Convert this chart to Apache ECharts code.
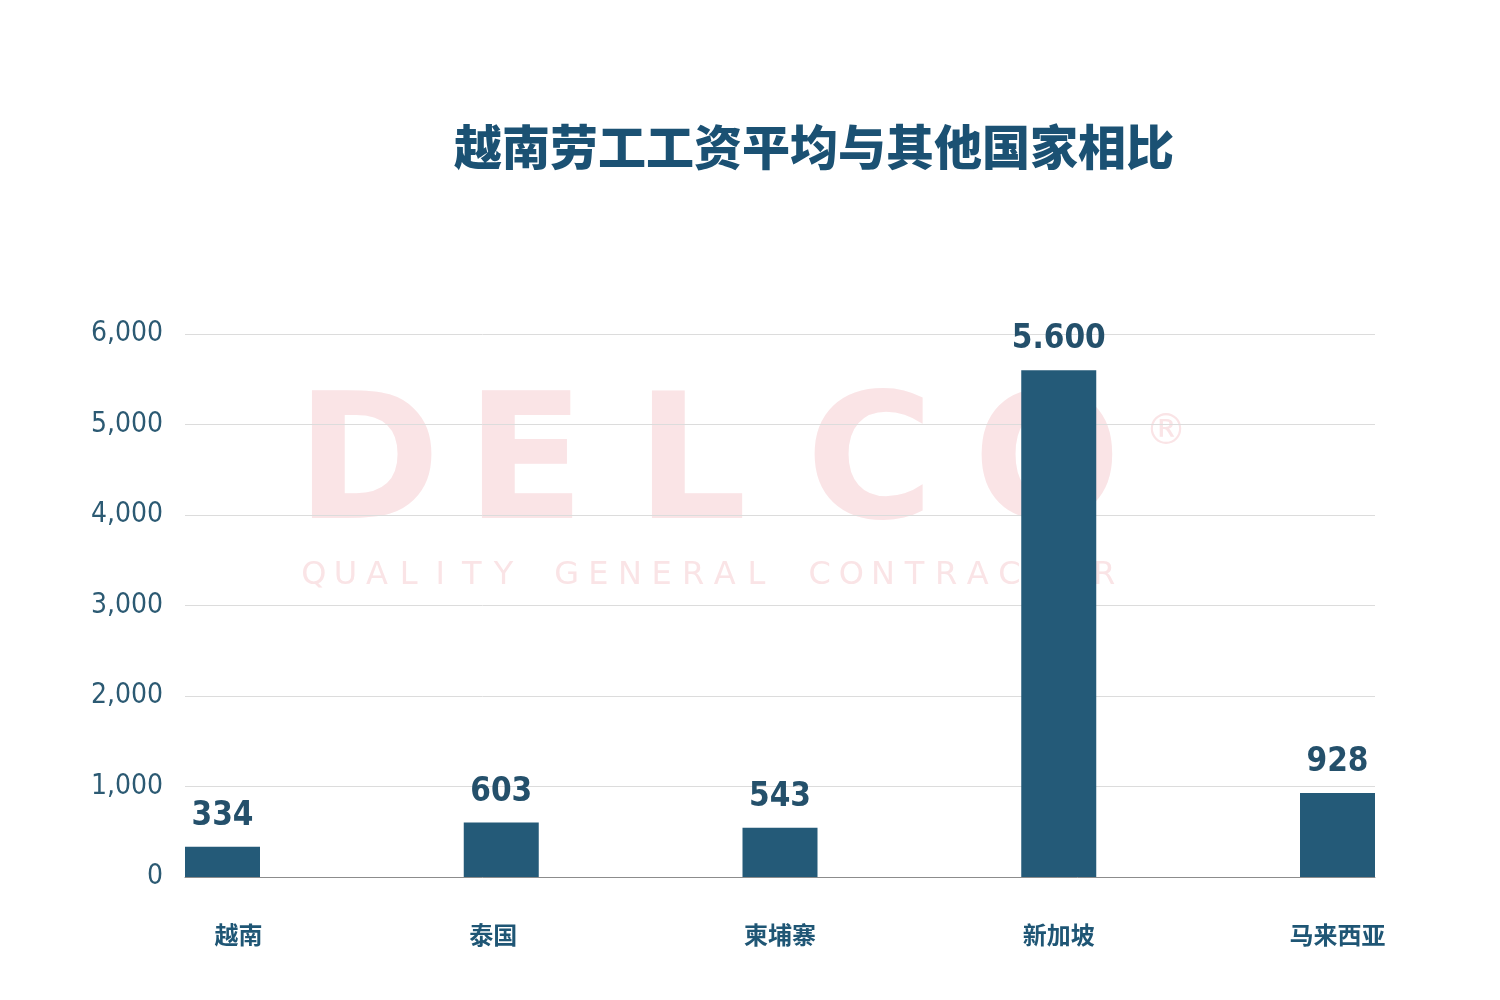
<!DOCTYPE html>
<html>
<head>
<meta charset="utf-8">
<script src="https://cdn.jsdelivr.net/npm/echarts@6/dist/echarts.min.js"></script>
<style>
html,body{margin:0;padding:0;background:#fff;}
#chart{width:1500px;height:1000px;}
</style>
</head>
<body>
<div id="chart"></div>
<script>
const titleText = '越南劳工工资平均与其他国家相比';
const categories = ['越南', '泰国', '柬埔寨', '新加坡', '马来西亚'];
const wages = [334, 603, 543, 5600, 928];
const yTicks = { min: 0, max: 6000, interval: 1000 };
const watermarkMain = ['D', 'E', 'L', 'C', 'O'];
const watermarkSub = 'QUALITY GENERAL CONTRACTOR';

const numFont = '"DejaVu Sans Condensed", "Roboto", sans-serif';
const cjkFont = '"Noto Sans CJK SC", sans-serif';
const barColor = '#245a78';
const textColor = '#24506b';

function dotThousands(v) {
  return String(v).replace(/\B(?=(\d{3})+(?!\d))/g, '.');
}

// watermark graphics (decorative)
const wmColor = '#fae4e6';
const wm = [];
const mainLeft = [296, 466, 636, 806, 973];
watermarkMain.forEach((ch, i) => {
  wm.push({
    type: 'text', z: -10, left: mainLeft[i], top: 386,
    style: { text: ch, font: 'bold 174px "DejaVu Sans"', fill: wmColor }
  });
});
wm.push({
  type: 'text', z: -10, left: 1145, top: 412,
  style: { text: '®', font: '42px "DejaVu Sans"', fill: wmColor }
});
const subChars = watermarkSub.split('');
const pitch = (1120 - 298) / subChars.length;
subChars.forEach((ch, i) => {
  if (ch === ' ') return;
  wm.push({
    type: 'text', z: -10, x: 298 + pitch * (i + 0.5), y: 576,
    style: { text: ch, font: '32px "DejaVu Sans"', fill: wmColor, textAlign: 'center', textVerticalAlign: 'middle' }
  });
});

const chart = echarts.init(document.getElementById('chart'), null, { renderer: 'canvas' });
chart.setOption({
  backgroundColor: '#ffffff',
  animation: false,
  title: {
    text: titleText,
    left: 809, top: 118, textAlign: 'center',
    textStyle: { fontFamily: cjkFont, fontWeight: 900, fontSize: 48, color: '#1b5173' }
  },
  graphic: wm,
  grid: [
    { left: 222.5, right: 162.5, top: 334, bottom: 123 },
    { left: 185, right: 125, top: 334, bottom: 123 }
  ],
  xAxis: [
    {
      type: 'category', gridIndex: 0, data: categories, boundaryGap: false,
      axisLine: { show: false }, axisTick: { show: false }, splitLine: { show: false },
      axisLabel: {
        margin: 46, fontFamily: cjkFont, fontWeight: 'bold', fontSize: 24, color: '#1f5675',
        formatter: (v, i) => i === 0 ? '{r|' + v + '}' : (i === 1 ? '{l|' + v + '}' : v),
        rich: {
          r: { padding: [0, 0, 0, 32], fontFamily: cjkFont, fontWeight: 'bold', fontSize: 24, color: '#1f5675' },
          l: { padding: [0, 16, 0, 0], fontFamily: cjkFont, fontWeight: 'bold', fontSize: 24, color: '#1f5675' }
        }
      }
    },
    {
      type: 'value', gridIndex: 1, min: 0, max: 1,
      axisLine: { show: true, lineStyle: { color: '#8c8c8c', width: 1 } },
      axisTick: { show: false }, axisLabel: { show: false }, splitLine: { show: false }
    }
  ],
  yAxis: [
    {
      type: 'value', gridIndex: 0, min: yTicks.min, max: yTicks.max, interval: yTicks.interval,
      show: false, splitLine: { show: false }
    },
    {
      type: 'value', gridIndex: 1, min: yTicks.min, max: yTicks.max, interval: yTicks.interval,
      axisLine: { show: false }, axisTick: { show: false },
      splitLine: { show: true, lineStyle: { color: '#dcdcdc', width: 1 } },
      axisLabel: { margin: 22, fontFamily: numFont, fontSize: 28, color: '#2c5a73' }
    }
  ],
  series: [{
    type: 'bar', xAxisIndex: 0, yAxisIndex: 0,
    data: wages, barWidth: 75, clip: false,
    itemStyle: { color: barColor },
    label: {
      show: true, position: 'top', distance: 14,
      fontFamily: numFont, fontWeight: 'bold', fontSize: 33, color: textColor,
      formatter: p => dotThousands(p.value)
    }
  }]
});
</script>
</body>
</html>
